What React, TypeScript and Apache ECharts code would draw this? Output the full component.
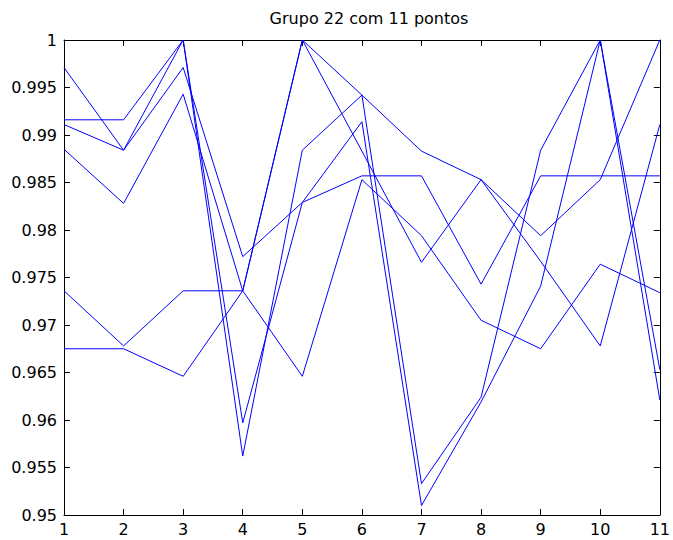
import React, { useEffect, useRef } from "react";
import * as echarts from "echarts";

const xValues = [1, 2, 3, 4, 5, 6, 7, 8, 9, 10, 11];
const serie1 = [0.9971, 0.9884, 0.9971, 0.9772, 0.9829, 0.9857, 0.9857, 0.9743, 0.9857, 0.9857, 0.9857];
const serie2 = [0.9916, 0.9916, 1.0, 0.9597, 0.9829, 0.9914, 0.951, 0.9619, 0.9741, 1.0, 0.9621];
const serie3 = [0.9911, 0.9884, 1.0, 0.9562, 0.9884, 0.9942, 0.9533, 0.9624, 0.9884, 1.0, 0.9653];
const serie4 = [0.9885, 0.9828, 0.9943, 0.9736, 1.0, 0.9942, 0.9883, 0.9853, 0.9794, 0.9853, 1.0];
const serie5 = [0.9736, 0.9678, 0.9736, 0.9736, 1.0, 0.9883, 0.9766, 0.9853, 0.9767, 0.9678, 0.9911];
const serie6 = [0.9675, 0.9675, 0.9646, 0.9736, 0.9646, 0.9853, 0.9794, 0.9705, 0.9675, 0.9764, 0.9734];
const allSeries = [serie1, serie2, serie3, serie4, serie5, serie6];
const titleText = "Grupo 22 com 11 pontos";

const FONT = "'DejaVu Sans', Verdana, sans-serif";

export default function App() {
  const ref = useRef<HTMLDivElement>(null);
  useEffect(() => {
    if (!ref.current) return;
    const chart = echarts.init(ref.current, undefined, { renderer: "svg" });
    const fmtY = (v: number) => String(parseFloat(v.toFixed(3)));
    const axisLine = { show: true, lineStyle: { color: "#000", width: 1 } };
    const tick = { show: true, inside: true, length: 6, lineStyle: { color: "#000", width: 1 } };
    chart.setOption({
      animation: false,
      backgroundColor: "#fff",
      title: {
        text: titleText,
        left: 364,
        top: 5,
        textAlign: "center",
        textStyle: { fontFamily: FONT, fontSize: 16, fontWeight: "normal", color: "#000" },
      },
      grid: { left: 64, top: 40, width: 600, height: 475, containLabel: false },
      xAxis: [
        {
          type: "value", min: 1, max: 11, interval: 1, position: "bottom",
          axisLine, axisTick: tick, splitLine: { show: false },
          axisLabel: { color: "#000", fontFamily: FONT, fontSize: 16, margin: 6 },
        },
        {
          type: "value", min: 1, max: 11, interval: 1, position: "top",
          axisLine, axisTick: tick, splitLine: { show: false }, axisLabel: { show: false },
        },
      ],
      yAxis: [
        {
          type: "value", min: 0.95, max: 1, interval: 0.005, position: "left",
          axisLine, axisTick: tick, splitLine: { show: false },
          axisLabel: { color: "#000", fontFamily: FONT, fontSize: 16, margin: 7, formatter: fmtY },
        },
        {
          type: "value", min: 0.95, max: 1, interval: 0.005, position: "right",
          axisLine, axisTick: tick, splitLine: { show: false }, axisLabel: { show: false },
        },
      ],
      series: allSeries.map((s, i) => ({
        name: "S" + (i + 1),
        type: "line",
        xAxisIndex: 0,
        yAxisIndex: 0,
        symbol: "none",
        data: s.map((v, j) => [xValues[j], v]),
        lineStyle: { color: "#0000ff", width: 1 },
        itemStyle: { color: "#0000ff" },
      })),
    });
    return () => chart.dispose();
  }, []);
  return (
    <div
      ref={ref}
      style={{ position: "absolute", left: 0, top: 0, width: 673, height: 540 }}
    />
  );
}
